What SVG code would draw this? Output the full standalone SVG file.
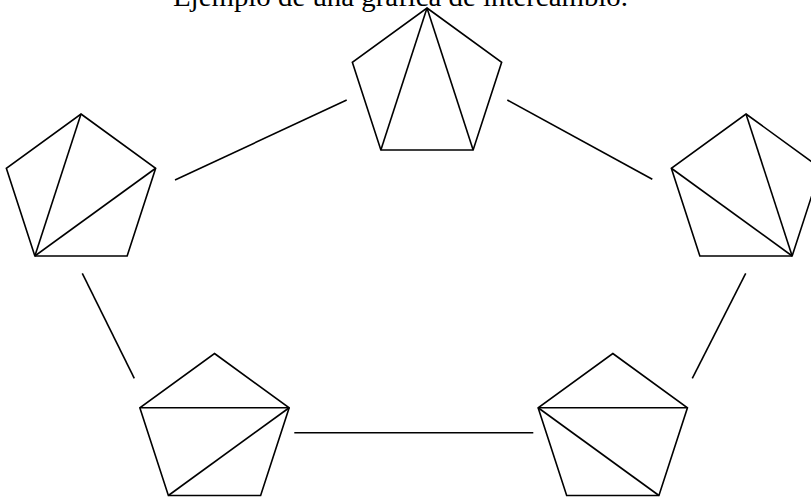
<svg xmlns="http://www.w3.org/2000/svg" xmlns:xlink="http://www.w3.org/1999/xlink" width="811" height="497" viewBox="0 0 811 497">
<style>
.s{fill:none;stroke:#000;stroke-width:1.6;stroke-linejoin:miter}
.t{font-family:"Liberation Serif","DejaVu Serif",serif;font-size:28px;fill:#000}
</style>
<defs>
<polygon id="pent" class="s" points="0,-78.5 74.66,-24.26 46.14,63.51 -46.14,63.51 -74.66,-24.26"/>
</defs>
<rect width="811" height="497" fill="#fff"/>
<text class="t" x="173" y="6" textLength="455" lengthAdjust="spacingAndGlyphs">Ejemplo de una gráfica de intercambio.</text>
<g id="connectors" class="s">
<line x1="175" y1="180" x2="346.7" y2="100"/>
<line x1="507.3" y1="100" x2="652.3" y2="179.3"/>
<line x1="82.3" y1="273.3" x2="134.3" y2="378.3"/>
<line x1="745.7" y1="273.3" x2="692.3" y2="378.3"/>
<line x1="294.3" y1="432.7" x2="533.3" y2="432.7"/>
</g>
<g id="n-top" transform="translate(427,86.5)">
<use xlink:href="#pent"/>
<line class="s" x1="0" y1="-78.5" x2="-46.14" y2="63.51"/>
<line class="s" x1="0" y1="-78.5" x2="46.14" y2="63.51"/>
</g>
<g id="n-left" transform="translate(81,192.5)">
<use xlink:href="#pent"/>
<line class="s" x1="-46.14" y1="63.51" x2="0" y2="-78.5"/>
<line class="s" x1="-46.14" y1="63.51" x2="74.66" y2="-24.26"/>
</g>
<g id="n-right" transform="translate(746,192.5)">
<use xlink:href="#pent"/>
<line class="s" x1="46.14" y1="63.51" x2="0" y2="-78.5"/>
<line class="s" x1="46.14" y1="63.51" x2="-74.66" y2="-24.26"/>
</g>
<g id="n-bottom-left" transform="translate(214.5,432)">
<use xlink:href="#pent"/>
<line class="s" x1="-74.66" y1="-24.26" x2="74.66" y2="-24.26"/>
<line class="s" x1="74.66" y1="-24.26" x2="-46.14" y2="63.51"/>
</g>
<g id="n-bottom-right" transform="translate(612.8,432)">
<use xlink:href="#pent"/>
<line class="s" x1="-74.66" y1="-24.26" x2="74.66" y2="-24.26"/>
<line class="s" x1="-74.66" y1="-24.26" x2="46.14" y2="63.51"/>
</g>
</svg>
